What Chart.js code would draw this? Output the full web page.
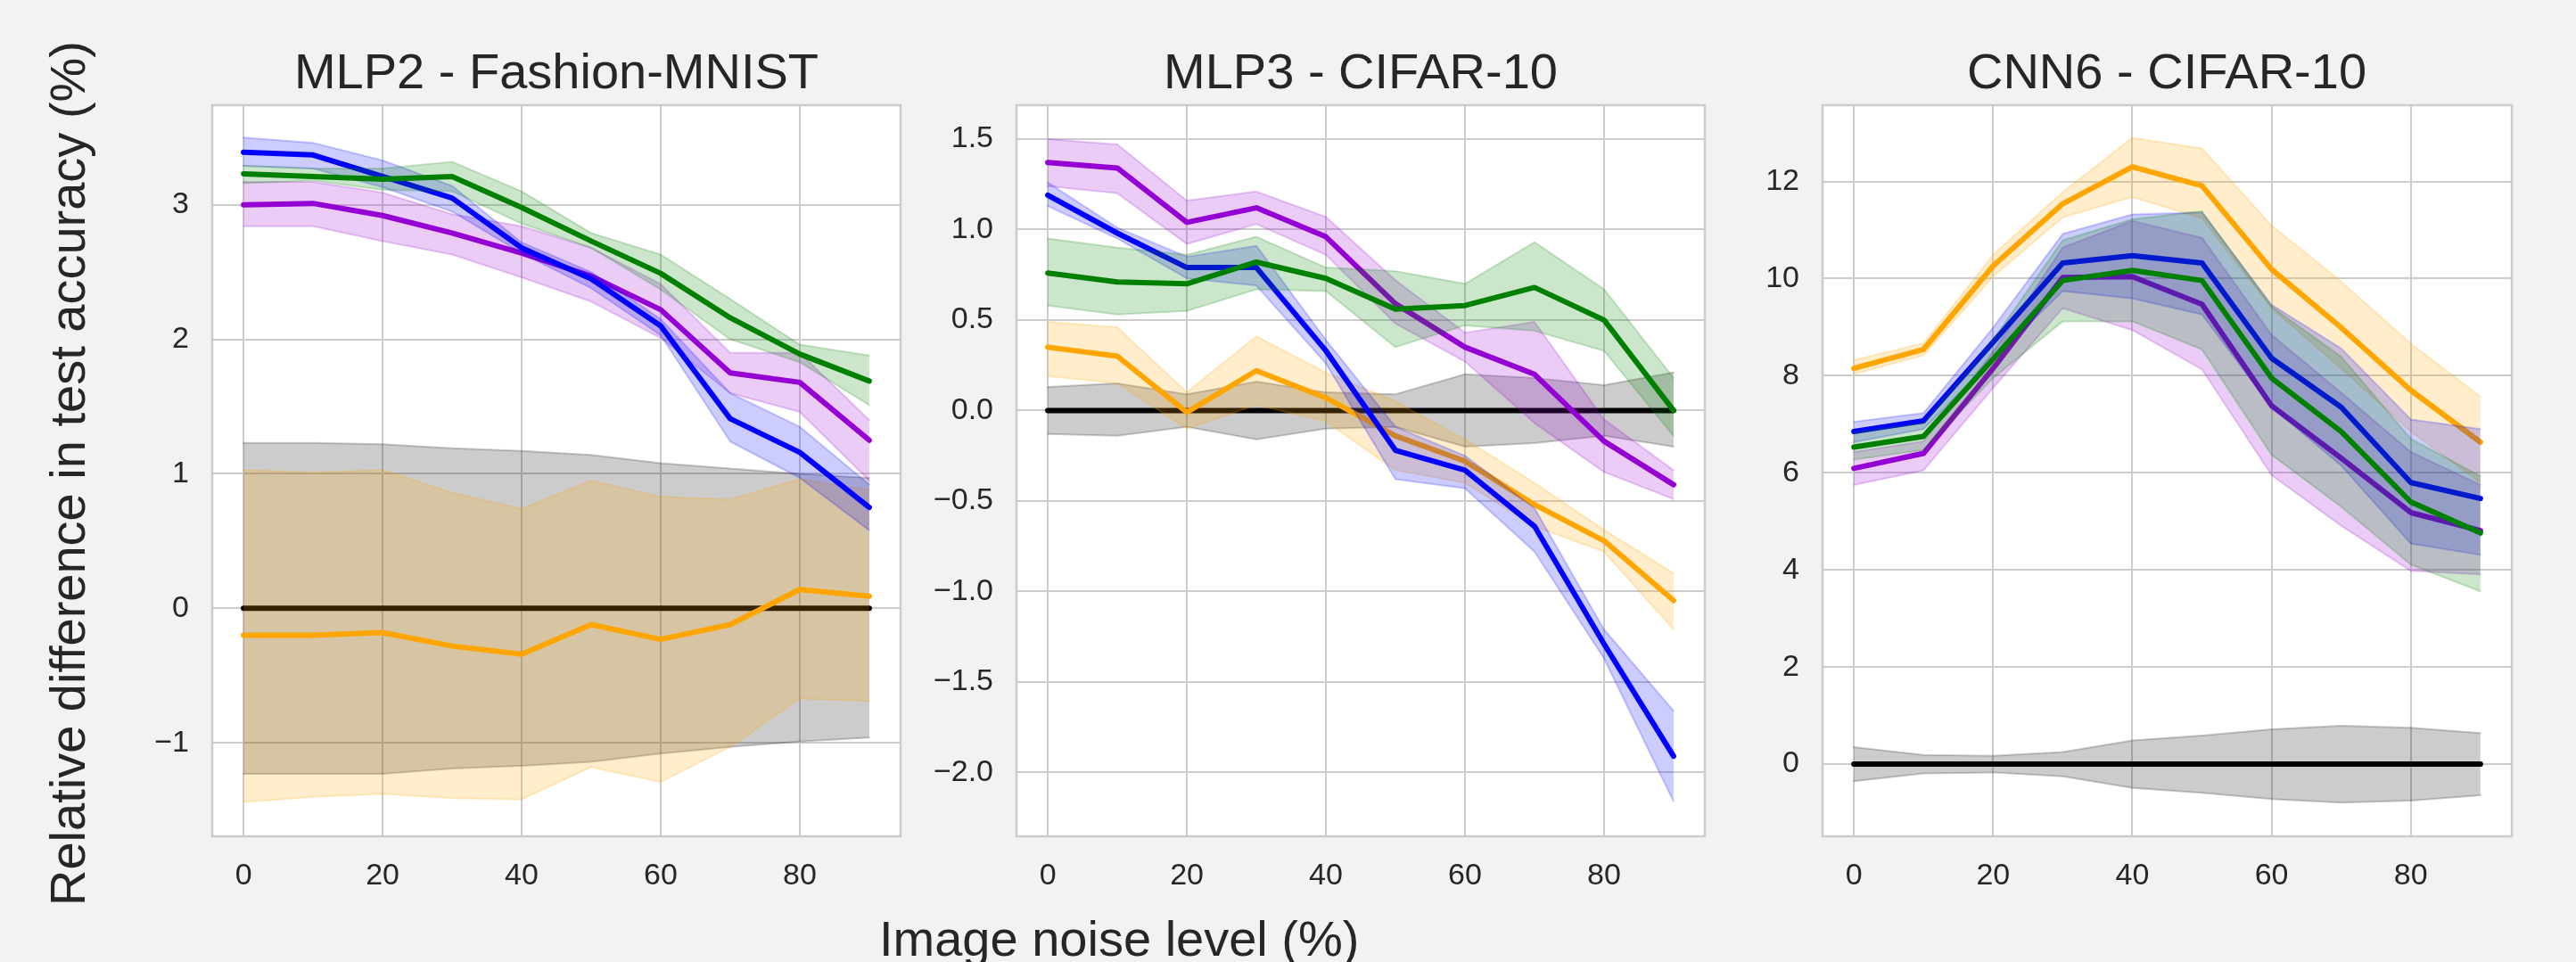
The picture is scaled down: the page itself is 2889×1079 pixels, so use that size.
<!DOCTYPE html>
<html>
<head>
<meta charset="utf-8">
<script src="https://cdn.jsdelivr.net/npm/chart.js@4.4.1/dist/chart.umd.min.js"></script>
<style>
    body { margin: 0; width: 2889px; height: 1079px; overflow: hidden; position: relative;
           background: #f2f2f2; font-family: "Liberation Sans", Arial, sans-serif; color: #262626; }
    canvas { position: absolute; }
    .nhan { position: absolute; font-size: 56px; line-height: 56px; white-space: nowrap; }
</style>
</head>
<body>

<canvas id="bieuDo1" width="912" height="910" style="left:108px;top:108px"></canvas>
<canvas id="bieuDo2" width="912" height="910" style="left:1010px;top:108px"></canvas>
<canvas id="bieuDo3" width="913" height="910" style="left:1914px;top:108px"></canvas>

<div class="nhan" style="left:624px;top:52px;transform:translateX(-50%)">MLP2 - Fashion-MNIST</div>
<div class="nhan" style="left:1526px;top:52px;transform:translateX(-50%)">MLP3 - CIFAR-10</div>
<div class="nhan" style="left:2430px;top:52px;transform:translateX(-50%)">CNN6 - CIFAR-10</div>
<div class="nhan" style="left:986px;top:1025px">Image noise level (%)</div>
<div class="nhan" style="left:76px;top:531px;transform:translate(-50%,-50%) rotate(-90deg)">Relative difference in test accuracy (%)</div>

<script>
// muc nhieu anh (truc x)
const noise = [0, 10, 20, 30, 40, 50, 60, 70, 80, 90];
const xTicks = [0, 20, 40, 60, 80];

// ---- MLP2 - Fashion-MNIST ----
const mlp2Black = [0, 0, 0, 0, 0, 0, 0, 0, 0, 0];
const mlp2BlackHi = [1.23, 1.23, 1.22, 1.19, 1.17, 1.14, 1.08, 1.04, 1.00, 0.97];
const mlp2BlackLo = [-1.23, -1.23, -1.23, -1.19, -1.17, -1.14, -1.08, -1.03, -0.99, -0.96];
const mlp2Orange = [-0.20, -0.20, -0.18, -0.28, -0.34, -0.12, -0.23, -0.12, 0.14, 0.09];
const mlp2OrangeHi = [1.03, 1.01, 1.03, 0.86, 0.74, 0.95, 0.83, 0.81, 0.96, 0.88];
const mlp2OrangeLo = [-1.44, -1.40, -1.38, -1.41, -1.42, -1.18, -1.29, -1.03, -0.67, -0.69];
const mlp2Purple = [3.00, 3.01, 2.92, 2.79, 2.64, 2.47, 2.22, 1.75, 1.68, 1.25];
const mlp2PurpleHi = [3.17, 3.17, 3.09, 2.93, 2.84, 2.68, 2.41, 1.90, 1.90, 1.40];
const mlp2PurpleLo = [2.84, 2.84, 2.73, 2.63, 2.46, 2.28, 2.01, 1.60, 1.46, 0.95];
const mlp2Blue = [3.39, 3.37, 3.21, 3.05, 2.68, 2.45, 2.10, 1.41, 1.16, 0.75];
const mlp2BlueHi = [3.50, 3.46, 3.33, 3.14, 2.72, 2.50, 2.15, 1.60, 1.35, 0.92];
const mlp2BlueLo = [3.29, 3.27, 3.13, 2.95, 2.64, 2.38, 2.03, 1.24, 0.97, 0.58];
const mlp2Green = [3.23, 3.21, 3.19, 3.21, 2.98, 2.73, 2.49, 2.16, 1.89, 1.69];
const mlp2GreenHi = [3.29, 3.27, 3.27, 3.32, 3.10, 2.79, 2.63, 2.30, 1.96, 1.88];
const mlp2GreenLo = [3.16, 3.18, 3.11, 3.10, 2.86, 2.68, 2.37, 2.00, 1.83, 1.51];
const mlp2Ticks = [-1, 0, 1, 2, 3];

// ---- MLP3 - CIFAR-10 ----
const mlp3Black = [0, 0, 0, 0, 0, 0, 0, 0, 0, 0];
const mlp3BlackHi = [0.13, 0.15, 0.09, 0.16, 0.10, 0.09, 0.20, 0.18, 0.14, 0.21];
const mlp3BlackLo = [-0.13, -0.14, -0.09, -0.16, -0.10, -0.09, -0.20, -0.18, -0.14, -0.20];
const mlp3Orange = [0.35, 0.30, -0.01, 0.22, 0.07, -0.14, -0.28, -0.52, -0.72, -1.05];
const mlp3OrangeHi = [0.49, 0.46, 0.10, 0.41, 0.21, 0.05, -0.16, -0.40, -0.66, -0.90];
const mlp3OrangeLo = [0.19, 0.15, -0.10, 0.03, -0.06, -0.33, -0.40, -0.64, -0.78, -1.21];
const mlp3Purple = [1.37, 1.34, 1.04, 1.12, 0.96, 0.59, 0.35, 0.20, -0.17, -0.41];
const mlp3PurpleHi = [1.50, 1.47, 1.16, 1.21, 1.07, 0.72, 0.43, 0.49, -0.05, -0.33];
const mlp3PurpleLo = [1.24, 1.20, 0.92, 1.03, 0.86, 0.48, 0.27, -0.07, -0.34, -0.49];
const mlp3Blue = [1.19, 0.98, 0.79, 0.79, 0.33, -0.22, -0.33, -0.64, -1.29, -1.91];
const mlp3BlueHi = [1.26, 1.01, 0.85, 0.91, 0.39, -0.09, -0.25, -0.54, -1.21, -1.66];
const mlp3BlueLo = [1.13, 0.95, 0.73, 0.69, 0.26, -0.38, -0.43, -0.78, -1.37, -2.16];
const mlp3Green = [0.76, 0.71, 0.70, 0.82, 0.73, 0.56, 0.58, 0.68, 0.50, 0.00];
const mlp3GreenHi = [0.95, 0.90, 0.86, 0.96, 0.79, 0.77, 0.70, 0.93, 0.67, 0.18];
const mlp3GreenLo = [0.58, 0.53, 0.55, 0.67, 0.66, 0.35, 0.47, 0.44, 0.33, -0.14];
const mlp3Ticks = [-2, -1.5, -1, -0.5, 0, 0.5, 1, 1.5];

// ---- CNN6 - CIFAR-10 ----
const cnn6Black = [0, 0, 0, 0, 0, 0, 0, 0, 0, 0];
const cnn6BlackHi = [0.35, 0.19, 0.17, 0.25, 0.49, 0.59, 0.72, 0.79, 0.75, 0.64];
const cnn6BlackLo = [-0.35, -0.19, -0.17, -0.25, -0.49, -0.59, -0.72, -0.79, -0.75, -0.64];
const cnn6Orange = [8.15, 8.54, 10.26, 11.54, 12.30, 11.91, 10.19, 8.99, 7.70, 6.63];
const cnn6OrangeHi = [8.32, 8.67, 10.49, 11.78, 12.90, 12.68, 11.09, 9.94, 8.66, 7.57];
const cnn6OrangeLo = [8.03, 8.42, 10.04, 11.26, 11.68, 11.24, 9.39, 8.15, 6.85, 5.80];
const cnn6Purple = [6.09, 6.40, 8.15, 10.02, 10.04, 9.47, 7.38, 6.30, 5.18, 4.81];
const cnn6PurpleHi = [6.43, 6.65, 8.49, 10.64, 11.19, 10.84, 8.84, 7.65, 6.43, 5.75];
const cnn6PurpleLo = [5.75, 6.05, 7.75, 9.39, 8.94, 8.13, 5.95, 4.91, 3.98, 3.91];
const cnn6Blue = [6.85, 7.07, 8.69, 10.32, 10.47, 10.32, 8.36, 7.35, 5.80, 5.47];
const cnn6BlueHi = [7.05, 7.23, 8.99, 10.92, 11.32, 11.36, 9.46, 8.56, 7.10, 6.90];
const cnn6BlueLo = [6.63, 6.90, 8.34, 9.74, 9.59, 9.26, 7.35, 6.15, 4.54, 4.31];
const cnn6Green = [6.53, 6.75, 8.34, 9.96, 10.17, 9.96, 7.95, 6.85, 5.40, 4.76];
const cnn6GreenHi = [6.83, 7.02, 8.74, 10.79, 11.22, 11.39, 9.42, 8.39, 6.70, 5.93];
const cnn6GreenLo = [6.27, 6.47, 7.95, 9.12, 9.12, 8.54, 6.37, 5.30, 4.11, 3.56];
const cnn6Ticks = [0, 2, 4, 6, 8, 10, 12];

// mau cua tung phuong phap
const mauSac = {
    black: [0, 0, 0],
    orange: [255, 165, 0],
    purple: [148, 0, 211],
    blue: [0, 0, 255],
    green: [0, 128, 0],
};

const FONT = '"Liberation Sans", Arial, sans-serif';

function rgba(c, a) {
    return `rgba(${c[0]},${c[1]},${c[2]},${a})`;
}

function diem(arr) {
    return arr.map((v, i) => ({ x: noise[i], y: v }));
}

// ve khung + nen trang cho vung ve
const khungPlugin = {
    id: "khung",
    beforeDraw(chart) {
        const a = chart.chartArea, c = chart.ctx;
        c.save();
        c.fillStyle = "#ffffff";
        c.fillRect(a.left, a.top, a.right - a.left, a.bottom - a.top);
        c.restore();
    },
    afterDraw(chart) {
        const a = chart.chartArea, c = chart.ctx;
        c.save();
        c.strokeStyle = "#cccccc";
        c.lineWidth = 2.5;
        c.strokeRect(a.left, a.top, a.right - a.left, a.bottom - a.top);
        c.restore();
    },
};

function veBieuDo(id, series, yMin, yMax, yTicks, fmt) {
    const datasets = [];
    series.forEach((s, i) => {
        const c = mauSac[s.mau];
        const z = 100 - i * 10;
        datasets.push({ data: diem(s.hi), borderColor: rgba(c, 0.2), backgroundColor: rgba(c, 0.2),
            borderWidth: 2, fill: "+1", pointRadius: 0, order: z });
        datasets.push({ data: diem(s.lo), borderColor: rgba(c, 0.2), borderWidth: 2,
            fill: false, pointRadius: 0, order: z });
        datasets.push({ data: diem(s.tb), borderColor: rgba(c, 1), borderWidth: 6,
            fill: false, pointRadius: 0, order: z - 5 });
    });

    new Chart(document.getElementById(id), {
        type: "line",
        data: { datasets: datasets },
        plugins: [khungPlugin],
        options: {
            responsive: false,
            animation: false,
            devicePixelRatio: 1,
            layout: { padding: { top: 10, right: 10, left: 0, bottom: 0 } },
            plugins: { legend: { display: false }, tooltip: { enabled: false } },
            elements: { line: { tension: 0, borderJoinStyle: "round", borderCapStyle: "round" } },
            scales: {
                x: {
                    type: "linear",
                    min: -4.5,
                    max: 94.5,
                    afterBuildTicks: (s) => { s.ticks = xTicks.map((v) => ({ value: v })); },
                    afterFit: (s) => { s.height = 80; s.paddingLeft = 0; s.paddingRight = 0; },
                    grid: { color: "#cccccc", lineWidth: 2, drawTicks: false },
                    border: { display: false },
                    ticks: { padding: 24, color: "#262626", font: { family: FONT, size: 34 },
                        maxRotation: 0, autoSkip: false, callback: (v) => String(v) },
                },
                y: {
                    type: "linear",
                    min: yMin,
                    max: yMax,
                    afterBuildTicks: (s) => { s.ticks = yTicks.map((v) => ({ value: v })); },
                    afterFit: (s) => { s.width = 130; s.paddingTop = 0; s.paddingBottom = 0; },
                    grid: { color: "#cccccc", lineWidth: 2, drawTicks: false },
                    border: { display: false },
                    ticks: { padding: 26, color: "#262626", font: { family: FONT, size: 34 },
                        autoSkip: false, callback: (v) => fmt(v).replace("-", "\u2212") },
                },
            },
        },
    });
}

const nguyen = (v) => String(Math.round(v));
const motSo = (v) => v.toFixed(1);

veBieuDo("bieuDo1", [
    { mau: "black", tb: mlp2Black, lo: mlp2BlackLo, hi: mlp2BlackHi },
    { mau: "orange", tb: mlp2Orange, lo: mlp2OrangeLo, hi: mlp2OrangeHi },
    { mau: "purple", tb: mlp2Purple, lo: mlp2PurpleLo, hi: mlp2PurpleHi },
    { mau: "blue", tb: mlp2Blue, lo: mlp2BlueLo, hi: mlp2BlueHi },
    { mau: "green", tb: mlp2Green, lo: mlp2GreenLo, hi: mlp2GreenHi },
], -1.694, 3.74, mlp2Ticks, nguyen);

veBieuDo("bieuDo2", [
    { mau: "black", tb: mlp3Black, lo: mlp3BlackLo, hi: mlp3BlackHi },
    { mau: "orange", tb: mlp3Orange, lo: mlp3OrangeLo, hi: mlp3OrangeHi },
    { mau: "purple", tb: mlp3Purple, lo: mlp3PurpleLo, hi: mlp3PurpleHi },
    { mau: "blue", tb: mlp3Blue, lo: mlp3BlueLo, hi: mlp3BlueHi },
    { mau: "green", tb: mlp3Green, lo: mlp3GreenLo, hi: mlp3GreenHi },
], -2.353, 1.687, mlp3Ticks, motSo);

veBieuDo("bieuDo3", [
    { mau: "black", tb: cnn6Black, lo: cnn6BlackLo, hi: cnn6BlackHi },
    { mau: "orange", tb: cnn6Orange, lo: cnn6OrangeLo, hi: cnn6OrangeHi },
    { mau: "purple", tb: cnn6Purple, lo: cnn6PurpleLo, hi: cnn6PurpleHi },
    { mau: "blue", tb: cnn6Blue, lo: cnn6BlueLo, hi: cnn6BlueHi },
    { mau: "green", tb: cnn6Green, lo: cnn6GreenLo, hi: cnn6GreenHi },
], -1.485, 13.57, cnn6Ticks, nguyen);
</script>
</body>
</html>
